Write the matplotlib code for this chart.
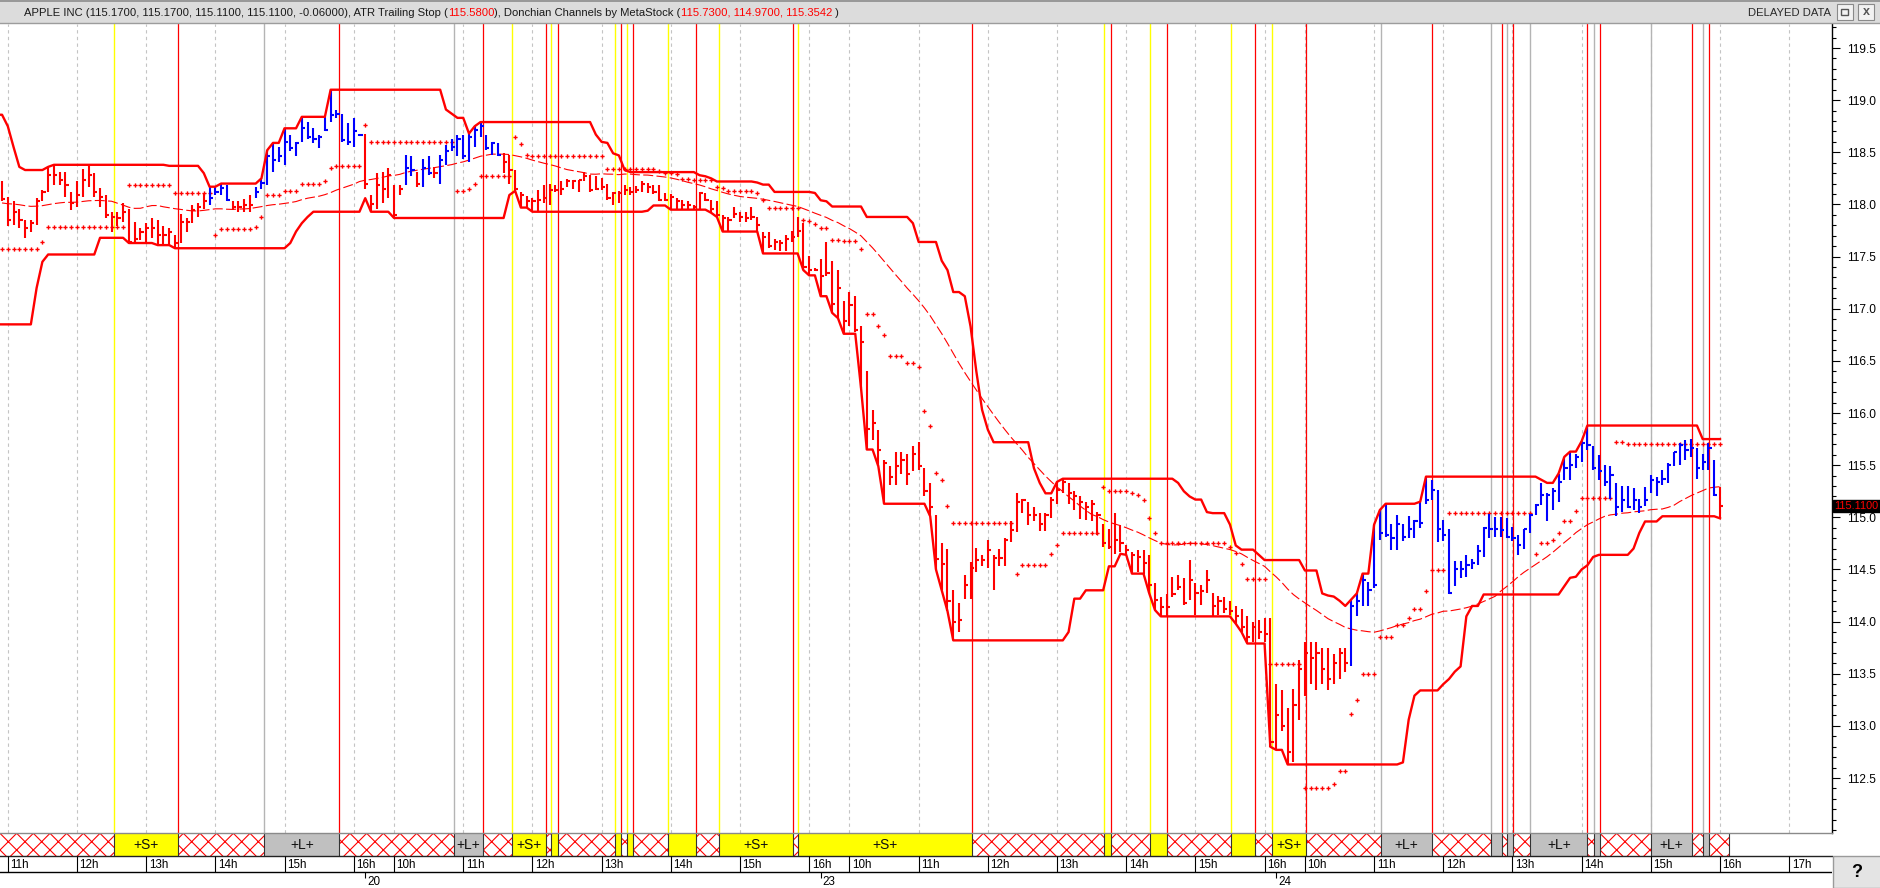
import numpy as np
import pandas as pd
import matplotlib
matplotlib.use("Agg")
import matplotlib.pyplot as plt
from matplotlib import font_manager
from matplotlib.patches import Rectangle
from matplotlib.lines import Line2D
from matplotlib.transforms import blended_transform_factory
from matplotlib.ticker import MultipleLocator, FixedLocator, FormatStrFormatter

# ---------------- data (5 minute bars, index of first bar = -21) ----------------
FIRST_BAR = -21

high = [
    # lead-in bars left of the window (-21 .. -2)
    118.70, 118.86, 118.75, 118.55, 118.36, 117.90, 117.40, 117.80, 118.33, 118.30,
    118.25, 118.20, 118.25, 118.30, 118.28, 118.10, 117.95, 117.90, 118.20, 118.30,
    # -1 .. 208
    118.22, 118.07, 118.03, 117.96, 117.85, 117.85, 118.06, 118.14, 118.36, 118.38,
    118.31, 118.31, 118.12, 118.22, 118.34, 118.37, 118.30, 118.16, 118.09, 117.93,
    117.93, 118.01, 117.96, 117.83, 117.77, 117.82, 117.87, 117.85, 117.79, 117.77,
    117.71, 117.91, 117.87, 117.99, 118.01, 118.11, 118.17, 118.17, 118.20, 118.19,
    118.03, 118.03, 118.05, 118.09, 118.17, 118.25, 118.52, 118.59, 118.55, 118.73,
    118.67, 118.60, 118.84, 118.79, 118.73, 118.67, 118.84, 119.10, 118.91, 118.87,
    118.78, 118.83, 118.68, 118.68, 118.09, 118.30, 118.31, 118.35, 118.19, 118.19,
    118.47, 118.46, 118.31, 118.44, 118.46, 118.36, 118.47, 118.57, 118.63, 118.67,
    118.67, 118.68, 118.75, 118.79, 118.67, 118.60, 118.59, 118.49, 118.47, 118.33,
    118.12, 118.08, 118.06, 118.14, 118.19, 118.20, 118.19, 118.22, 118.24, 118.23,
    118.23, 118.31, 118.28, 118.27, 118.25, 118.20, 118.12, 118.13, 118.19, 118.17,
    118.18, 118.22, 118.21, 118.19, 118.19, 118.11, 118.10, 118.06, 118.04, 118.03,
    117.99, 118.12, 118.11, 118.04, 118.03, 117.90, 117.88, 117.98, 117.93, 117.93,
    117.98, 117.88, 117.74, 117.74, 117.67, 117.66, 117.71, 117.75, 117.88, 117.82,
    117.51, 117.39, 117.48, 117.64, 117.46, 117.37, 117.07, 117.16, 117.12, 116.83,
    116.40, 116.03, 115.84, 115.55, 115.49, 115.63, 115.63, 115.61, 115.68, 115.72,
    115.47, 115.33, 115.02, 114.75, 114.70, 114.30, 114.18, 114.45, 114.57, 114.71,
    114.64, 114.78, 114.64, 114.70, 114.80, 114.96, 115.23, 115.18, 115.15, 115.10,
    115.04, 115.04, 115.19, 115.34, 115.37, 115.33, 115.25, 115.20, 115.15, 115.17,
    115.05, 114.94, 114.89, 115.04, 114.93, 114.73, 114.67, 114.69, 114.69, 114.64,
    114.37, 114.24, 114.26, 114.43, 114.45, 114.42, 114.59, 114.37, 114.35, 114.49,
    # 209 .. 297
    114.27, 114.25, 114.24, 114.20, 114.15, 114.12, 114.05, 114.00, 114.02, 114.03,
    114.03, 113.40, 113.34, 113.17, 113.35, 113.63, 113.80, 113.80, 113.80, 113.75,
    113.75, 113.69, 113.75, 113.75, 114.21, 114.27, 114.46, 114.38, 114.93, 115.07,
    115.13, 114.94, 115.02, 114.94, 115.01, 114.97, 115.15, 115.39, 115.36, 115.26,
    114.97, 114.89, 114.58, 114.58, 114.64, 114.60, 114.73, 114.91, 115.03, 115.00,
    115.00, 114.99, 114.91, 114.83, 114.89, 115.03, 115.13, 115.33, 115.23, 115.28,
    115.42, 115.58, 115.63, 115.61, 115.73, 115.88, 115.68, 115.60, 115.50, 115.49,
    115.33, 115.30, 115.30, 115.28, 115.18, 115.29, 115.41, 115.39, 115.45, 115.52,
    115.63, 115.71, 115.74, 115.75, 115.66, 115.61, 115.71, 115.55, 115.29,
]

low = [
    118.50, 118.55, 118.40, 118.05, 117.60, 117.10, 116.85, 117.20, 117.45, 117.95,
    117.90, 117.85, 117.95, 118.00, 117.90, 117.70, 117.60, 117.52, 117.80, 118.05,
    118.03, 117.79, 117.80, 117.77, 117.68, 117.74, 117.80, 118.03, 118.12, 118.19,
    118.19, 118.07, 117.95, 117.98, 118.07, 118.17, 118.07, 117.98, 117.87, 117.74,
    117.79, 117.83, 117.63, 117.64, 117.66, 117.64, 117.68, 117.61, 117.61, 117.61,
    117.58, 117.63, 117.74, 117.82, 117.88, 117.96, 117.99, 118.09, 118.09, 118.03,
    117.95, 117.93, 117.93, 117.93, 118.06, 118.15, 118.19, 118.31, 118.41, 118.38,
    118.51, 118.46, 118.60, 118.63, 118.59, 118.54, 118.70, 118.79, 118.83, 118.60,
    118.57, 118.55, 118.66, 118.15, 117.93, 117.96, 118.01, 118.06, 117.87, 118.09,
    118.19, 118.27, 118.17, 118.17, 118.28, 118.25, 118.20, 118.38, 118.51, 118.46,
    118.44, 118.41, 118.55, 118.65, 118.52, 118.47, 118.46, 118.30, 118.20, 118.13,
    117.97, 117.97, 117.93, 117.94, 118.01, 117.99, 118.12, 118.09, 118.17, 118.15,
    118.12, 118.22, 118.12, 118.14, 118.14, 118.04, 117.99, 118.01, 118.09, 118.09,
    118.11, 118.12, 118.11, 118.10, 118.03, 118.03, 117.95, 117.95, 117.96, 117.95,
    117.95, 117.95, 118.03, 117.92, 117.88, 117.74, 117.75, 117.87, 117.83, 117.83,
    117.85, 117.75, 117.53, 117.58, 117.56, 117.55, 117.55, 117.64, 117.69, 117.37,
    117.32, 117.36, 117.12, 117.31, 116.96, 116.91, 116.76, 116.83, 116.78, 116.24,
    115.65, 115.74, 115.49, 115.13, 115.31, 115.31, 115.42, 115.31, 115.44, 115.45,
    115.20, 115.01, 114.50, 114.30, 114.10, 113.82, 113.90, 114.22, 114.22, 114.48,
    114.53, 114.51, 114.30, 114.53, 114.53, 114.76, 114.86, 115.04, 114.93, 114.96,
    114.87, 114.87, 114.99, 115.13, 115.23, 115.13, 115.07, 114.98, 114.97, 114.96,
    114.83, 114.72, 114.70, 114.65, 114.67, 114.64, 114.46, 114.48, 114.46, 114.27,
    114.11, 114.05, 114.05, 114.24, 114.30, 114.16, 114.21, 114.06, 114.16, 114.27,
    114.05, 114.06, 114.08, 114.06, 113.98, 113.90, 113.79, 113.80, 113.83, 113.80,
    112.80, 112.77, 112.95, 112.63, 112.65, 113.06, 113.29, 113.40, 113.34, 113.40,
    113.34, 113.40, 113.45, 113.52, 113.57, 114.05, 114.15, 114.15, 114.32, 114.78,
    114.81, 114.69, 114.69, 114.77, 114.80, 114.80, 114.90, 115.13, 115.17, 114.76,
    114.77, 114.26, 114.34, 114.42, 114.43, 114.50, 114.54, 114.62, 114.80, 114.81,
    114.81, 114.80, 114.77, 114.64, 114.70, 114.85, 115.02, 115.12, 114.96, 115.07,
    115.15, 115.36, 115.36, 115.47, 115.53, 115.65, 115.45, 115.36, 115.30, 115.18,
    115.01, 115.05, 115.09, 115.07, 115.04, 115.11, 115.23, 115.20, 115.31, 115.33,
    115.49, 115.50, 115.55, 115.58, 115.37, 115.45, 115.45, 115.20, 114.99,
]

close = [
    118.60, 118.70, 118.45, 118.10, 117.70, 117.20, 117.30, 117.70, 118.20, 118.10,
    118.00, 118.10, 118.15, 118.20, 118.00, 117.80, 117.75, 117.85, 118.15, 118.20,
    118.05, 117.85, 117.93, 117.85, 117.77, 117.82, 118.03, 118.12, 118.28, 118.28,
    118.23, 118.19, 118.01, 118.09, 118.23, 118.28, 118.12, 118.07, 117.90, 117.88,
    117.87, 117.93, 117.64, 117.67, 117.74, 117.77, 117.77, 117.71, 117.71, 117.74,
    117.63, 117.83, 117.83, 117.95, 117.98, 118.03, 118.06, 118.12, 118.16, 118.04,
    117.98, 117.98, 117.99, 117.99, 118.12, 118.21, 118.46, 118.43, 118.46, 118.60,
    118.54, 118.59, 118.73, 118.65, 118.63, 118.65, 118.71, 118.86, 118.87, 118.62,
    118.60, 118.70, 118.67, 118.20, 118.00, 118.19, 118.15, 118.28, 117.90, 118.15,
    118.35, 118.33, 118.20, 118.35, 118.30, 118.30, 118.43, 118.51, 118.55, 118.63,
    118.46, 118.65, 118.71, 118.75, 118.54, 118.59, 118.47, 118.41, 118.33, 118.15,
    118.09, 118.03, 118.03, 118.04, 118.06, 118.14, 118.14, 118.15, 118.22, 118.22,
    118.23, 118.27, 118.14, 118.15, 118.17, 118.06, 118.11, 118.11, 118.14, 118.12,
    118.14, 118.20, 118.17, 118.12, 118.04, 118.04, 118.07, 118.03, 117.99, 117.99,
    117.98, 118.11, 118.04, 117.96, 117.90, 117.87, 117.85, 117.91, 117.88, 117.87,
    117.88, 117.80, 117.69, 117.60, 117.64, 117.63, 117.67, 117.69, 117.75, 117.40,
    117.37, 117.37, 117.31, 117.34, 117.05, 117.20, 116.88, 117.04, 116.80, 116.68,
    115.85, 115.90, 115.65, 115.52, 115.39, 115.49, 115.55, 115.42, 115.61, 115.49,
    115.25, 115.10, 114.60, 114.55, 114.20, 114.00, 114.02, 114.35, 114.51, 114.59,
    114.59, 114.69, 114.61, 114.61, 114.78, 114.88, 115.15, 115.17, 115.02, 115.02,
    114.94, 115.02, 115.17, 115.26, 115.34, 115.23, 115.20, 115.15, 115.10, 115.13,
    115.02, 114.75, 114.72, 114.78, 114.75, 114.69, 114.64, 114.62, 114.56, 114.35,
    114.21, 114.14, 114.14, 114.26, 114.33, 114.18, 114.40, 114.27, 114.29, 114.40,
    114.15, 114.20, 114.12, 114.10, 114.05, 113.95, 113.85, 113.95, 113.90, 113.88,
    112.85, 113.10, 113.00, 112.75, 113.20, 113.55, 113.70, 113.65, 113.70, 113.55,
    113.45, 113.60, 113.70, 113.60, 114.15, 114.20, 114.40, 114.30, 114.35, 114.85,
    114.83, 114.80, 114.94, 114.81, 114.89, 114.96, 114.95, 115.17, 115.26, 114.89,
    114.83, 114.27, 114.50, 114.50, 114.54, 114.56, 114.68, 114.90, 114.89, 114.89,
    114.88, 114.81, 114.80, 114.73, 114.89, 115.02, 115.12, 115.21, 115.21, 115.25,
    115.34, 115.47, 115.50, 115.58, 115.71, 115.69, 115.47, 115.44, 115.34, 115.41,
    115.10, 115.17, 115.10, 115.17, 115.10, 115.17, 115.36, 115.34, 115.37, 115.50,
    115.63, 115.69, 115.65, 115.66, 115.47, 115.53, 115.66, 115.21, 115.11,
]

# bars painted blue (first, last bar index)
BLUE_RUNS = [(35, 38), (43, 61), (69, 70), (72, 73), (75, 85), (233, 296)]

# expert advisor states, in bar units (start, end)
SHORT_SEGS = [(18.5, 29.6), (87.5, 93.4), (94.3, 95.4), (105.3, 106.3), (107.4, 108.4),
              (114.5, 119.4), (123.3, 136.2), (137.1, 167.3), (190.2, 191.3),
              (198.2, 201.1), (212.2, 216.4), (219.3, 225.2)]
LONG_SEGS = [(44.5, 57.5), (77.4, 82.4), (238.2, 247.1), (257.2, 259.2), (260.1, 261.1),
             (264.1, 274.0), (275.1, 276.2), (285.0, 292.1), (294.0, 295.1)]
BAND_END = 298.5

HOUR_TICKS = [0, 12, 24, 36, 48, 60, 67, 79, 91, 103, 115, 127, 139,
              146, 158, 170, 182, 194, 206, 218, 225, 237, 249, 261, 273, 285, 297, 309]
HOUR_LABELS = ['11h', '12h', '13h', '14h', '15h', '16h', '10h', '11h', '12h', '13h', '14h',
               '15h', '16h', '10h', '11h', '12h', '13h', '14h', '15h', '16h', '10h', '11h',
               '12h', '13h', '14h', '15h', '16h', '17h']
DATE_TICKS = [62, 141, 220]
DATE_LABELS = ['20', '23', '24']

PRICE_TICKS = [112.5, 113.0, 113.5, 114.0, 114.5, 115.0, 115.5, 116.0, 116.5, 117.0,
               117.5, 118.0, 118.5, 119.0, 119.5]
LAST_PRICE = 115.11

HEADER_PARTS = [
    ("APPLE INC (115.1700, 115.1700, 115.1100, 115.1100, -0.06000), ATR Trailing Stop (", '#1a1a1a'),
    ("115.5800", '#ff0000'),
    ("), Donchian Channels by MetaStock (", '#1a1a1a'),
    ("115.7300, 114.9700, 115.3542", '#ff0000'),
    (" )", '#1a1a1a'),
]

# ---------------- indicators ----------------
h = np.array(high)
l = np.array(low)
c = np.array(close)
n = len(c)
x = np.arange(FIRST_BAR, FIRST_BAR + n)

dc_up = pd.Series(h).rolling(20, min_periods=1).max().values
dc_lo = pd.Series(l).rolling(20, min_periods=1).min().values
ma = pd.Series(c).rolling(40, min_periods=1).mean().values

# ATR trailing stop, started on the first visible bar
vis = x >= -1
hv, lv, cv = h[vis], l[vis], c[vis]
prev_c = np.r_[cv[0], cv[:-1]]
tr = np.maximum(hv, prev_c) - np.minimum(lv, prev_c)
loss = 2.5 * pd.Series(tr).rolling(10, min_periods=1).mean().values
stop = np.empty(len(cv))
stop[0] = cv[0] - loss[0]
for i in range(1, len(cv)):
    if cv[i] > stop[i - 1] and cv[i - 1] > stop[i - 1]:
        stop[i] = max(stop[i - 1], cv[i] - loss[i])
    elif cv[i] < stop[i - 1] and cv[i - 1] < stop[i - 1]:
        stop[i] = min(stop[i - 1], cv[i] + loss[i])
    elif cv[i] > stop[i - 1]:
        stop[i] = cv[i] - loss[i]
    else:
        stop[i] = cv[i] + loss[i]

blue = np.zeros(n, dtype=bool)
for a, b in BLUE_RUNS:
    blue[(x >= a) & (x <= b)] = True
cols = np.where(blue, '#0000ff', '#ff0000')

# ---------------- figure ----------------
W, H = 1881, 888
plt.rcParams['font.family'] = ['Liberation Sans', 'DejaVu Sans']
plt.rcParams['hatch.linewidth'] = 0.8
plt.rcParams['hatch.color'] = '#ff0000'

names = {f.name for f in font_manager.fontManager.ttflist}
hfam = ['Liberation Sans Narrow', 'Liberation Sans'] if 'Liberation Sans Narrow' in names else ['Liberation Sans']

fig = plt.figure(figsize=(W / 100, H / 100), dpi=100)
fig.patch.set_facecolor('white')


def fx(px):
    return px / W


def fy(py):
    return 1 - py / H


X0, BAR = 7.8, 5.765
xl = ((0 - X0) / BAR, (1832 - X0) / BAR)

# price pane
ax = fig.add_axes([0, fy(833), fx(1832), (833 - 24) / H])
ax.set_xlim(xl)
ax.set_ylim(119.5 - (833 - 48) / 104.29, 119.5 + 24 / 104.29)

for t in HOUR_TICKS:
    ax.axvline(t, color='#c4c4c4', lw=0.8, ls=(0, (3, 3)), zorder=1)
for a, b in SHORT_SEGS:
    ax.axvline(a, color='#ffff00', lw=1.0, zorder=1.5)
    ax.axvline(b, color='#ff0000', lw=0.9, zorder=1.5)
for a, b in LONG_SEGS:
    ax.axvline(a, color='#b4b4b4', lw=1.0, zorder=1.5)
    ax.axvline(b, color='#ff0000', lw=0.9, zorder=1.5)

ax.plot(x[vis], ma[vis], color='#ff0000', lw=0.8, dashes=(9, 3), zorder=2)
ax.plot(x[vis], stop, ls='none', marker='P', ms=3.0, mfc='#ff0000', mec='#ff0000',
        mew=0, zorder=3)
ax.vlines(x, l, h, colors=cols, lw=1.5, zorder=3)
ax.hlines(c, x, x + 0.55, colors=cols, lw=1.5, zorder=3)
ax.plot(x[x >= -2], dc_up[x >= -2], color='#ff0000', lw=1.7, zorder=4)
ax.plot(x[x >= -2], dc_lo[x >= -2], color='#ff0000', lw=1.7, zorder=4)

for s in ['top', 'left', 'bottom']:
    ax.spines[s].set_visible(False)
ax.spines['right'].set_linewidth(1.0)
ax.set_xticks([])
ax.yaxis.tick_right()
ax.yaxis.set_major_locator(FixedLocator(PRICE_TICKS))
ax.yaxis.set_minor_locator(MultipleLocator(0.1))
ax.yaxis.set_major_formatter(FormatStrFormatter('%.1f'))
ax.tick_params(axis='y', which='major', length=6, width=0.8, pad=5, labelsize=8.6,
               colors='black')
ax.tick_params(axis='y', which='minor', length=3, width=0.8)

trf = blended_transform_factory(ax.transAxes, ax.transData)
ax.text(1.0012, LAST_PRICE, '%.4f' % LAST_PRICE, transform=trf, ha='left', va='center',
        color='#ff0000', fontsize=7.8, clip_on=False, zorder=10,
        bbox=dict(boxstyle='square,pad=0.12', fc='black', ec='black'))

# expert advisor band
axb = fig.add_axes([0, fy(856), fx(1832), 23 / H])
axb.set_xlim(xl)
axb.set_ylim(0, 1)
axb.axis('off')
axb.add_patch(Rectangle((xl[0], 0), BAND_END - xl[0], 1, facecolor='white',
                        edgecolor='#ff0000', hatch='xx', lw=0))
edges = [BAND_END]
for segs, fc, lab in [(SHORT_SEGS, '#ffff00', '+S+'), (LONG_SEGS, '#c0c0c0', '+L+')]:
    for a, b in segs:
        axb.add_patch(Rectangle((a, 0), b - a, 1, facecolor=fc, lw=0))
        edges += [a, b]
        if b - a > 4.95:
            axb.text((a + b) / 2, 0.47, lab, ha='center', va='center', fontsize=10,
                     color='#111111')
axb.vlines(edges, 0, 1, colors='#333333', lw=0.8)
axb.add_line(Line2D([xl[0], xl[1]], [0.98, 0.98], color='#8a8a8a', lw=1.0, clip_on=False))
axb.add_line(Line2D([xl[0], xl[1]], [0.0, 0.0], color='#222222', lw=1.0, clip_on=False))

# time axis rows
axr = fig.add_axes([0, 0, fx(1832), 32 / H])
axr.set_xlim(xl)
axr.set_ylim(32, 0)
axr.axis('off')
axr.vlines(HOUR_TICKS, 0, 16, colors='black', lw=0.8)
for t, lab in zip(HOUR_TICKS, HOUR_LABELS):
    axr.text(t + 0.45, 8.5, lab, ha='left', va='center', fontsize=8.4, color='black')
axr.add_line(Line2D([xl[0], xl[1]], [16, 16], color='black', lw=1.0))
axr.vlines(DATE_TICKS, 16, 22, colors='black', lw=0.8)
for t, lab in zip(DATE_TICKS, DATE_LABELS):
    axr.text(t + 0.35, 25.5, lab, ha='left', va='center', fontsize=8.4, color='black')

# "?" button bottom right
fig.add_artist(Rectangle((fx(1833), 0), fx(48), 32 / H, transform=fig.transFigure,
                         fc='#e4e4e4', ec='#9a9a9a', lw=1))
fig.text(fx(1857), fy(872), '?', ha='center', va='center', fontsize=13, weight='bold',
         color='black')

# header bar
fig.add_artist(Rectangle((0, fy(24)), 1, 24 / H, transform=fig.transFigure,
                         fc='#dcdcdc', ec='none'))
fig.add_artist(Line2D([0, 1], [fy(0.8), fy(0.8)], transform=fig.transFigure,
                      color='#8c8c8c', lw=1.2))
fig.add_artist(Line2D([0, 1], [fy(23.5), fy(23.5)], transform=fig.transFigure,
                      color='#9c9c9c', lw=1.0))

renderer = fig.canvas.get_renderer()


def put_header(fs):
    arts = []
    xp = 24
    for s, col in HEADER_PARTS:
        t = fig.text(fx(xp), fy(12.5), s, color=col, fontsize=fs, family=hfam,
                     ha='left', va='center')
        xp += t.get_window_extent(renderer).width
        arts.append(t)
    return arts, xp - 24


arts, wdt = put_header(9)
for a in arts:
    a.remove()
hfs = 9 * 812 / wdt
arts, wdt = put_header(hfs)

fig.text(fx(1831), fy(12.5), 'DELAYED DATA', ha='right', va='center', fontsize=hfs,
         family=hfam, color='#2a2a2a')
for bx in (1837, 1858):
    fig.add_artist(Rectangle((fx(bx), fy(20)), fx(16), 16 / H, transform=fig.transFigure,
                             fc='#f2f2f2', ec='#8a8a8a', lw=0.8))
fig.add_artist(Rectangle((fx(1841.5), fy(15)), fx(7), 6 / H, transform=fig.transFigure,
                         fc='none', ec='#555555', lw=1.0))
fig.text(fx(1866), fy(12), 'x', ha='center', va='center', fontsize=9, weight='bold',
         color='#555555')

fig.savefig('out.png', dpi=100)
